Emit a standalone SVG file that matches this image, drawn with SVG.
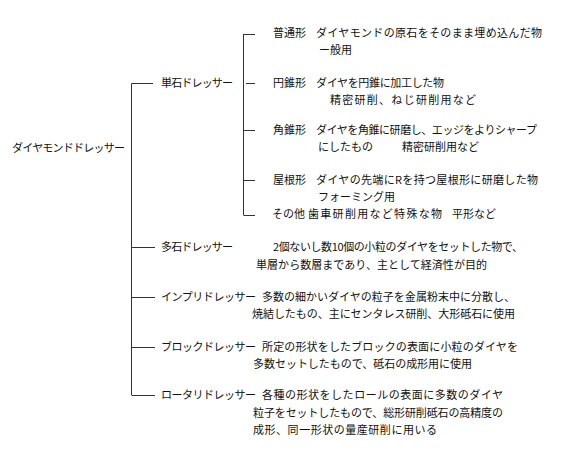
<svg xmlns="http://www.w3.org/2000/svg" width="583" height="465" viewBox="0 0 583 465">
<style>
text{font-family:"Noto Sans CJK JP","Noto Sans CJK SC",sans-serif;font-size:11px;fill:#111;}
.ln{stroke:#333;stroke-width:1;fill:none;}
</style>
<rect width="583" height="465" fill="#fff"/>
<g id="connectors">
<path class="ln" d="M131.5,395 V83.5 H153"/>
<path class="ln" d="M131.5,247.5 H155 M131.5,297.5 H155 M131.5,347.5 H155 M131.5,395.5 H155"/>
<path class="ln" d="M243.5,34 V215"/>
<path class="ln" d="M243.5,34.5 H255 M246,83.5 H255 M243.5,130.5 H255 M243.5,180.5 H255 M243.5,215.5 H255"/>
</g>
<g id="root"><text x="12" y="152" textLength="113">ダイヤモンドドレッサー</text></g>
<g id="tanseki"><text x="161" y="87" textLength="72">単石ドレッサー</text></g>
<g id="futsu">
<text x="273" y="37">普通形</text>
<text x="316" y="37" textLength="226">ダイヤモンドの原石をそのまま埋め込んだ物</text>
<text x="319" y="54">ー般用</text>
</g>
<g id="ensui">
<text x="273" y="87">円錐形</text>
<text x="316" y="87" textLength="128">ダイヤを円錐に加工した物</text>
<text x="330" y="104" textLength="146">精密研削、ねじ研削用など</text>
</g>
<g id="kakusui">
<text x="273" y="134">角錐形</text>
<text x="316" y="134" textLength="221">ダイヤを角錐に研磨し、エッジをよりシャープ</text>
<text x="318" y="151">にしたもの</text>
<text x="402" y="151">精密研削用など</text>
</g>
<g id="yane">
<text x="273" y="184">屋根形</text>
<text x="316" y="184" textLength="222">ダイヤの先端にRを持つ屋根形に研磨した物</text>
<text x="318" y="201">フォーミング用</text>
</g>
<g id="sonota">
<text x="272" y="218">その他</text>
<text x="308" y="218" textLength="134">歯車研削用など特殊な物</text>
<text x="452" y="218" textLength="44">平形など</text>
</g>
<g id="taseki">
<text x="161" y="251" textLength="72">多石ドレッサー</text>
<text x="273" y="251" textLength="250">2個ないし数10個の小粒のダイヤをセットした物で、</text>
<text x="256" y="269" textLength="231">単層から数層まであり、主として経済性が目的</text>
</g>
<g id="impuri">
<text x="161" y="301" textLength="95">インプリドレッサー</text>
<text x="262" y="301" textLength="253">多数の細かいダイヤの粒子を金属粉末中に分散し、</text>
<text x="252" y="318" textLength="263">焼結したもの、主にセンタレス研削、大形砥石に使用</text>
</g>
<g id="block">
<text x="161" y="351" textLength="95">ブロックドレッサー</text>
<text x="262" y="351" textLength="256">所定の形状をしたブロックの表面に小粒のダイヤを</text>
<text x="253" y="368" textLength="219">多数セットしたもので、砥石の成形用に使用</text>
</g>
<g id="rotary">
<text x="161" y="399" textLength="95">ロータリドレッサー</text>
<text x="262" y="399" textLength="241">各種の形状をしたロールの表面に多数のダイヤ</text>
<text x="253" y="417" textLength="250">粒子をセットしたもので、総形研削砥石の高精度の</text>
<text x="253" y="434" textLength="184">成形、同一形状の量産研削に用いる</text>
</g>
</svg>
